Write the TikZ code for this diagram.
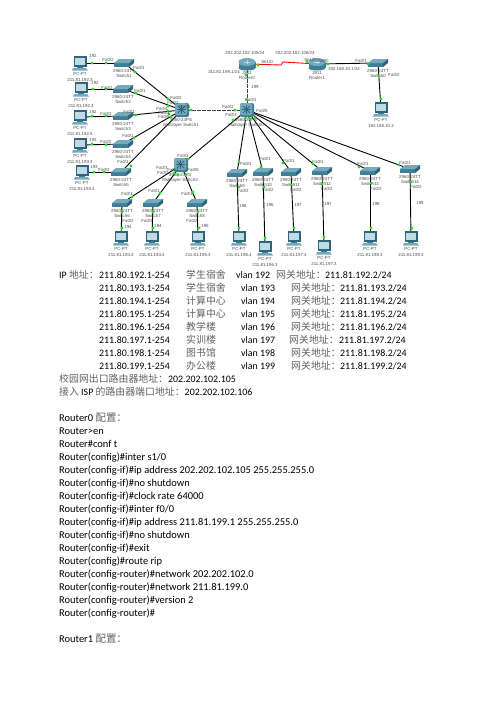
\documentclass[tikz,border=0pt]{standalone}
\usepackage{fontspec}
\setmainfont{Carlito}
\newfontfamily\cjk{Noto Sans CJK SC}
\newfontfamily\labfont{Liberation Sans}
\usetikzlibrary{backgrounds}
\definecolor{devtop}{HTML}{74AABB}
\definecolor{devfront}{HTML}{3F7F96}
\definecolor{devside}{HTML}{2F667C}
\definecolor{screenblue}{HTML}{BFDCE6}
\definecolor{portgreen}{HTML}{22E022}
\definecolor{zhgray}{gray}{0.38}
\newcommand{\zh}[1]{{\cjk\color{zhgray}#1}}
\tikzset{
	swdev/.style={minimum width=22pt,minimum height=14pt,inner sep=0pt,path picture={
		\begin{scope}[shift={(path picture bounding box.center)}]
			\fill[devfront] (-10,0) rectangle (5,4);
			\fill[devtop] (-10,0) -- (-5,-4) -- (10,-4) -- (5,0) -- cycle;
			\fill[devside] (5,0) -- (10,-4) -- (10,0) -- (5,4) -- cycle;
		\end{scope}}},
	mlsdev/.style={minimum width=16pt,minimum height=16pt,inner sep=0pt,path picture={
		\begin{scope}[shift={(path picture bounding box.center)}]
			\fill[devfront,rounded corners=2pt] (-7,-7) rectangle (7,7);
			\fill[devtop,rounded corners=2pt] (-7,-7) rectangle (5,5);
			\draw[devside,line width=0.8pt] (-4,-4) -- (3,3) (-4,3) -- (3,-4) (-0.5,-5) -- (-0.5,4) (-5,-0.5) -- (4,-0.5);
		\end{scope}}},
	rtdev/.style={minimum width=19pt,minimum height=14pt,inner sep=0pt,path picture={
		\begin{scope}[shift={(path picture bounding box.center)}]
			\fill[devfront] (-8.5,-2) rectangle (8.5,4);
			\fill[devfront] (0,4) ellipse (8.5 and 2.5);
			\fill[devtop] (0,-2) ellipse (8.5 and 4);
			\draw[devtop!45!white,line width=0.4pt] (-3,-2) -- (3,-2) (0,-4) -- (0,0);
		\end{scope}}},
	pcdev/.style={minimum width=17pt,minimum height=17pt,inner sep=0pt,path picture={
		\begin{scope}[shift={(path picture bounding box.center)}]
			\fill[devside] (-6.5,-7) rectangle (6.5,3.5);
			\fill[screenblue] (-5,-5.5) rectangle (5,2);
			\fill[devfront] (-3,3.5) rectangle (3,5);
			\fill[devtop] (-7,5) -- (6,5) -- (8,7.5) -- (-8,7.5) -- cycle;
		\end{scope}}},
	lnk/.style={black,line width=0.9pt},
	xlnk/.style={black!75,line width=0.9pt,dash pattern=on 4pt off 1pt},
	serial/.style={red,line width=0.9pt},
	portdot/.style={circle,fill=portgreen,inner sep=0pt,minimum size=3.2pt},
	lab/.style={inner sep=0pt,text=black!70,font=\labfont\fontsize{4.4}{5}\selectfont},
	txt/.style={inner sep=0pt,anchor=base west,font=\fontsize{9.9}{13}\selectfont},
	cfgtxt/.style={txt,font=\fontsize{10.45}{13}\selectfont}
}
\begin{document}
\begin{tikzpicture}[x=1pt,y=-1pt]
	\useasboundingbox (0,0) rectangle (496,702);

	\foreach \n/\x/\y in {1/124/63,2/123/89,3/123/116,4/123/144,5/121/172,6/122/203,7/153/203,8/197/203,
		9/237/173,10/263/172,11/291/172,12/322/171,13/370/171,14/410/169,0/378/63}{
		\node[swdev] (sw\n) at (\x,\y) {};
		\node[lab] (swtype\n) at (\x,\y+8) {2960-24TT};
		\node[lab] (swname\n) at (\x,\y+13) {Switch\n};
	}
	\foreach \n/\x/\y in {0/247/110,1/182/110,2/181/165}{
		\node[mlsdev] (mls\n) at (\x,\y) {};
		\node[lab] (mlstype\n) at (\x-1,\y+10) {3560-24PS};
		\node[lab] (mlsname\n) at (\x-1,\y+15) {Multilayer Switch\n};
	}
	\foreach \n/\x/\y in {0/247/64,1/317/64}{
		\node[rtdev] (rt\n) at (\x,\y) {};
		\node[lab] (rttype\n) at (\x,\y+9) {2811};
		\node[lab] (rtname\n) at (\x,\y+14) {Router\n};
	}
	\foreach \n/\x/\y/\addr in {1/80/63/211.81.192.3,2/81/89/211.81.192.4,3/80/117/211.81.192.5,4/80/145/211.81.193.3,
		5/82/172/211.81.193.4,6/121/238/211.81.194.3,7/152/238/211.81.194.4,8/198/238/211.81.195.3,
		9/239/238/211.81.196.4,10/265/248/211.81.196.3,11/294/238/211.81.197.4,12/324/247/211.81.197.3,
		13/370/238/211.81.198.3,14/411/238/211.81.199.3,0/381/109/192.168.10.2}{
		\node[pcdev] (pc\n) at (\x,\y) {};
		\node[lab] (pcname\n) at (\x,\y+11) {PC-PT};
		\node[lab] (pcaddr\n) at (\x,\y+16.5) {\addr};
	}

	\coordinate (zigA) at (281,65);
	\coordinate (zigB) at (283,62);

	\begin{scope}[on background layer]
		\foreach \a/\b in {pc1/sw1,pc2/sw2,pc3/sw3,pc4/sw4,pc5/sw5,pc6/sw6,pc7/sw7,pc8/sw8,pc9/sw9,pc10/sw10,pc11/sw11,pc12/sw12,pc13/sw13,pc14/sw14,pc0/sw0,
			sw1/mls1,sw2/mls1,sw3/mls1,sw4/mls1,sw5/mls1,sw6/mls2,sw7/mls2,sw8/mls2,
			sw9/mls0,sw10/mls0,sw11/mls0,sw12/mls0,sw13/mls0,sw14/mls0,mls2/mls0,rt1/sw0}
			\draw[lnk] (\a.center) -- (\b.center);
		\draw[xlnk] (mls1.center) -- (mls0.center);
		\draw[xlnk] (rt0.center) -- (mls0.center);
		\draw[serial] (rt0.center) -- (zigA) -- (zigB) -- (rt1.center);
	\end{scope}

	\foreach \x/\y [count=\i] in {92/63,93/89,92/116,92/144,94/172,106/63,106/89,106/116,106/145,104/172,
		135/72,136/93,136/115,134/138,131/166,168/99,168/106,168/111,169/114,171/117,191/110,235/110,
		188/159,233/120,246/75,247/100,258/65,307/62,328/64,368/64,379/76,381/99,
		132/197,160/193,193/192,174/173,178/175,186/175,122/228,153/228,199/228,122/212,153/212,198/212,
		239/162,261/167,283/163,313/164,359/167,399/165,239/187,264/187,291/185,322/184,371/183,411/182,
		239/228,265/238,294/228,324/237,371/228,412/228,245/119,250/119,255/118}
		\node[portdot] (port\i) at (\x,\y) {};

	\foreach \x/\y/\p [count=\i] in {108/60/2,139/68/1,107/88/2,140/91/1,106/114/3,129/112/1,106/142/2,128/136/1,104/170/2,123/162/1,
		176/98/2,173/103/2,162/109/4,164/113/3,164/117/5,185/107/1,228/107/2,231/115/3,262/111/5,251/100/1,
		183/156/1,162/168/3,163/173/2,173/170/4,193/170/5,127/194/1,154/191/1,187/194/1,128/221/2,147/221/2,192/221/2,
		246/164/1,265/159/1,289/161/1,318/162/1,363/164/1,405/163/1,243/191/2,268/190/2,296/190/2,327/189/2,376/189/2,416/187/2,
		323/61/0,361/61/1,394/75/2}
		\node[lab] (fa\i) at (\x,\y) {Fa0/\p};

	\foreach \x/\y/\v [count=\i] in {93/56/192,95/83/192,93/112/192,93/140/193,94/167/193,128/227/194,158/226/194,205/226/195,
		243/206/196,270/205/196,298/205/197,328/204/197,376/204/198,420/203/199,255/87/199}
		\node[lab] (vlanlab\i) at (\x,\y) {\v};

	\node[lab] (addrA) at (245,53) {202.202.102.105/24};
	\node[lab] (addrB) at (295,53) {202.202.102.106/24};
	\node[lab] (addrC) at (224,72) {211.81.199.1/24};
	\node[lab] (addrD) at (344,69) {192.168.10.1/24};
	\node[lab] (seA) at (267,62) {Se1/0};
	\node[lab] (seB) at (310,60) {Se1/0};

	\node[txt] (iphead) at (59,278) {IP \zh{地址：}};
	\foreach \n/\name/\vx/\gx/\ax [count=\i] in {192/学生宿舍/236/276/325,193/学生宿舍/241/291/340,194/计算中心/241/291/340,195/计算中心/241/291/340,
		196/教学楼/241/291/340,197/实训楼/241/289/339,198/图书馆/241/291/340,199/办公楼/241/291/340}{
		\node[txt] (ip\n) at (99,278+13*\i-13) {211.80.\n.1-254};
		\node[txt] (place\n) at (186,278+13*\i-13) {\zh{\name}};
		\node[txt] (vlan\n) at (\vx,278+13*\i-13) {vlan \n};
		\node[txt] (gwlab\n) at (\gx,278+13*\i-13) {\zh{网关地址：}};
		\node[txt] (gw\n) at (\ax,278+13*\i-13) {211.81.\n.2/24};
	}
	\node[txt] (exitline) at (59,382) {\zh{校园网出口路由器地址：}202.202.102.105};
	\node[txt] (ispline) at (59,395) {\zh{接入} ISP \zh{的路由器端口地址：}202.202.102.106};

	\node[cfgtxt] (cfghead) at (59,421) {Router0 \zh{配置：}};
	\foreach \s [count=\i] in {Router>en,Router\#conf t,Router(config)\#inter s1/0,
		Router(config-if)\#ip address 202.202.102.105 255.255.255.0,Router(config-if)\#no shutdown,
		Router(config-if)\#clock rate 64000,Router(config-if)\#inter f0/0,
		Router(config-if)\#ip address 211.81.199.1 255.255.255.0,Router(config-if)\#no shutdown,
		Router(config-if)\#exit,Router(config)\#route rip,Router(config-router)\#network 202.202.102.0,
		Router(config-router)\#network 211.81.199.0,Router(config-router)\#version 2,Router(config-router)\#}
		\node[cfgtxt] (cfg\i) at (59,421+13*\i) {\s};
	\node[cfgtxt] (cfgheadB) at (59,642) {Router1 \zh{配置：}};
\end{tikzpicture}
\end{document}
